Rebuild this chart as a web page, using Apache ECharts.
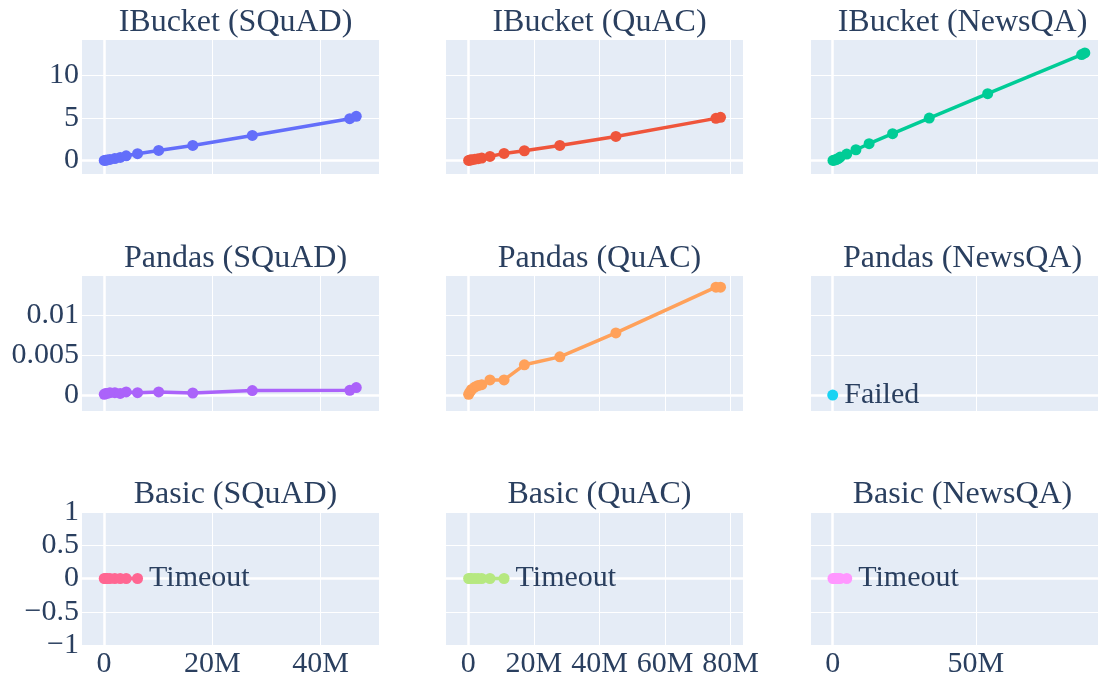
<!DOCTYPE html>
<html>
<head>
<meta charset="utf-8">
<script src="https://cdn.jsdelivr.net/npm/echarts@6/dist/echarts.min.js"></script>
<style>html,body{margin:0;padding:0;background:#fff}#c{width:1098px;height:679px}</style>
</head>
<body>
<div id="c"></div>
<script>
// ---- data (x in tokens/rows, y in seconds) ----
const methods = ['IBucket', 'Pandas', 'Basic'];
const datasets = ['SQuAD', 'QuAC', 'NewsQA'];

const xSQuAD  = [0.05e6, 0.3e6, 0.6e6, 1.1e6, 2.0e6, 3.0e6, 4.1e6, 6.2e6, 10.1e6, 16.4e6, 27.4e6, 45.4e6, 46.6e6];
const xQuAC   = [0.1e6, 0.5e6, 1.0e6, 2.0e6, 3.0e6, 4.1e6, 6.6e6, 10.9e6, 17.1e6, 27.9e6, 45.0e6, 75.5e6, 76.9e6];
const xNewsQA = [0.1e6, 0.6e6, 1.2e6, 1.9e6, 2.6e6, 4.9e6, 8.1e6, 12.7e6, 20.9e6, 33.7e6, 54.1e6, 86.9e6, 88.0e6];

const yIBucketSQuAD  = [0.0, 0.03, 0.06, 0.12, 0.22, 0.35, 0.55, 0.79, 1.18, 1.77, 2.95, 4.92, 5.2];
const yIBucketQuAC   = [0.0, 0.04, 0.08, 0.15, 0.2, 0.28, 0.47, 0.83, 1.14, 1.77, 2.83, 4.96, 5.08];
const yIBucketNewsQA = [0.0, 0.05, 0.1, 0.2, 0.39, 0.75, 1.26, 1.97, 3.15, 5.0, 7.87, 12.48, 12.68];

const yPandasSQuAD  = [0.0001, 0.0002, 0.0002, 0.0003, 0.0003, 0.0002, 0.0004, 0.0003, 0.0004, 0.00026, 0.00056, 0.0006, 0.00094];
const yPandasQuAC   = [0.0001, 0.0004, 0.0007, 0.0010, 0.0012, 0.0013, 0.0019, 0.0019, 0.0038, 0.0048, 0.0078, 0.01355, 0.01355];
const xPandasNewsQA = [0];
const yPandasNewsQA = [0];

const xBasicSQuAD  = [0.05e6, 0.3e6, 0.6e6, 1.1e6, 2.0e6, 3.0e6, 4.1e6, 6.2e6];
const yBasicSQuAD  = [0, 0, 0, 0, 0, 0, 0, 0];
const xBasicQuAC   = [0.1e6, 0.5e6, 1.0e6, 2.0e6, 3.0e6, 4.1e6, 6.6e6, 10.9e6];
const yBasicQuAC   = [0, 0, 0, 0, 0, 0, 0, 0];
const xBasicNewsQA = [0.1e6, 0.6e6, 1.2e6, 1.9e6, 2.6e6, 4.9e6];
const yBasicNewsQA = [0, 0, 0, 0, 0, 0];

const notePandasNewsQA = 'Failed';
const noteBasic = 'Timeout';

// ---- layout ----
const colors = ['#636efa', '#EF553B', '#00cc96', '#ab63fa', '#FFA15A', '#19d3f3', '#FF6692', '#B6E880', '#FF97FF'];
const FONT = 'Liberation Serif';
const TXT = '#2a3f5f';
const colLeft = [82, 446, 811];
const colWidth = [297, 297, 287];
const rowTop = [40, 276, 512];
const rowHeight = [134, 135, 135];
const xRange = [[-4.06e6, 50.8e6, 20e6], [-6.8e6, 83.75e6, 20e6], [-7.58e6, 92.6e6, 50e6]];
const yRange = [[-1.6, 14.2, 5], [-0.002, 0.01495, 0.005], [-1, 1, 0.5]];

const panels = [
  [xSQuAD, yIBucketSQuAD, null], [xQuAC, yIBucketQuAC, null], [xNewsQA, yIBucketNewsQA, null],
  [xSQuAD, yPandasSQuAD, null], [xQuAC, yPandasQuAC, null], [xPandasNewsQA, yPandasNewsQA, notePandasNewsQA],
  [xBasicSQuAD, yBasicSQuAD, noteBasic], [xBasicQuAC, yBasicQuAC, noteBasic], [xBasicNewsQA, yBasicNewsQA, noteBasic]
];

const fmtNum = v => String(v).replace('-', '\u2212');
const fmtX = v => v === 0 ? '0' : (Math.round(v / 1e6)) + 'M';

const grid = [], xAxis = [], yAxis = [], series = [], title = [];
for (let r = 0; r < 3; r++) {
  for (let c = 0; c < 3; c++) {
    const i = r * 3 + c;
    grid.push({left: colLeft[c], top: rowTop[r], width: colWidth[c], height: rowHeight[r],
      show: true, backgroundColor: '#E5ECF6', borderWidth: 0, containLabel: false});
    title.push({text: methods[r] + ' (' + datasets[c] + ')', left: colLeft[c] + colWidth[c] / 2 + (c === 2 ? 3 : 0),
      top: rowTop[r] - 38, textAlign: 'center',
      textStyle: {fontFamily: FONT, fontSize: 32, fontWeight: 'normal', color: TXT}});
    const xr = xRange[c], yr = yRange[r];
    xAxis.push({type: 'value', gridIndex: i, min: xr[0], max: xr[1], minInterval: xr[2], maxInterval: xr[2],
      axisLine: {show: false}, axisTick: {show: false},
      splitLine: {show: true, showMinLine: false, showMaxLine: false, lineStyle: {color: '#fff', width: 1}},
      axisLabel: {show: r === 2, showMinLabel: false, showMaxLabel: false, formatter: fmtX, margin: 4,
        fontFamily: FONT, fontSize: 30, color: TXT}});
    yAxis.push({type: 'value', gridIndex: i, min: yr[0], max: yr[1], minInterval: yr[2], maxInterval: yr[2],
      axisLine: {show: false}, axisTick: {show: false},
      splitLine: {show: true, showMinLine: r === 2, showMaxLine: r === 2, lineStyle: {color: '#fff', width: 1}},
      axisLabel: {show: c === 0, showMinLabel: r === 2, showMaxLabel: r === 2, formatter: fmtNum, margin: 3,
        fontFamily: FONT, fontSize: 30, color: TXT}});
    // zero lines (under the data)
    series.push({type: 'line', xAxisIndex: i, yAxisIndex: i, data: [[0, 0]], symbol: 'none', showSymbol: false,
      lineStyle: {width: 0, opacity: 0}, silent: true, z: 1, zlevel: 0,
      markLine: {silent: true, symbol: 'none', label: {show: false}, animation: false, z: 1,
        lineStyle: {color: '#fff', width: 2.5, type: 'solid'},
        data: [{yAxis: 0}, {xAxis: 0}]}});
    const [xs, ys, note] = panels[i];
    const data = xs.map((x, k) => {
      const d = {value: [x, ys[k]]};
      if (note && k === xs.length - 1) {
        d.label = {show: true, position: 'right', distance: 6, formatter: note,
          fontFamily: FONT, fontSize: 30, color: TXT};
      }
      return d;
    });
    series.push({type: 'line', name: methods[r] + ' (' + datasets[c] + ')', xAxisIndex: i, yAxisIndex: i,
      data: data, symbol: 'circle', symbolSize: 11, showSymbol: true, color: colors[i],
      lineStyle: {width: 3.5, color: colors[i]}, itemStyle: {color: colors[i]}, z: 10, animation: false});
  }
}

const chart = echarts.init(document.getElementById('c'), null, {renderer: 'canvas'});
chart.setOption({animation: false, backgroundColor: '#fff', title, grid, xAxis, yAxis, series});
</script>
</body>
</html>
